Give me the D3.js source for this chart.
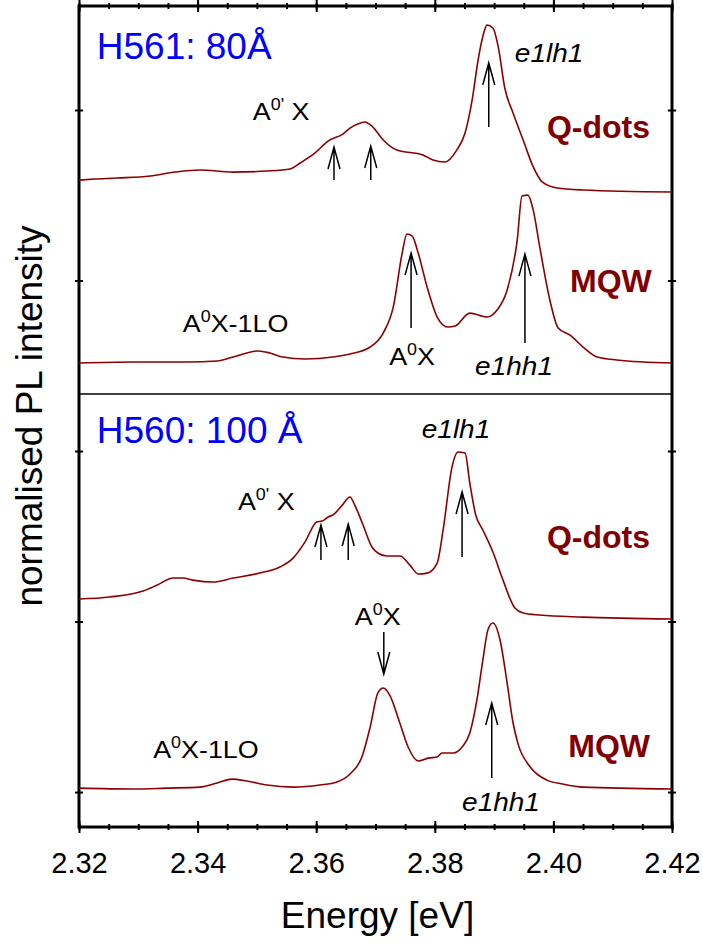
<!DOCTYPE html>
<html>
<head>
<meta charset="utf-8">
<script src="https://cdn.jsdelivr.net/npm/d3@7"></script>
<style>
  body { margin: 0; background: #fff; }
  text { font-family: "Liberation Sans", Arial, sans-serif; }
</style>
</head>
<body>
<script>
// x axis
const energyDomain = [2.32, 2.42];
const xTickLabels = [2.32, 2.34, 2.36, 2.38, 2.40, 2.42];
const yTicks = [0, 1, 2, 3, 4];

// H561 (80 A) quantum dots
const h561QdotsE = [2.3200,2.3227,2.3264,2.3320,2.3362,2.3404,2.3460,2.3517,2.3556,2.3573,2.3598,2.3620,2.3645,2.3657,2.3670,2.3682,2.3694,2.3713,2.3736,2.3780,2.3797,2.3817,2.3837,2.3851,2.3863,2.3873,2.3883,2.3888,2.3898,2.3907,2.3918,2.3932,2.3949,2.3966,2.3981,2.4006,2.4050,2.4200];
const h561QdotsI = [3.589,3.595,3.601,3.613,3.636,3.648,3.636,3.642,3.654,3.689,3.748,3.818,3.859,3.894,3.918,3.930,3.906,3.824,3.765,3.736,3.707,3.695,3.765,3.865,4.059,4.293,4.457,4.499,4.481,4.370,4.129,3.982,3.824,3.666,3.578,3.543,3.531,3.519];

// H561 MQW
const h561MqwE = [2.3200,2.3291,2.3382,2.3433,2.3460,2.3502,2.3522,2.3544,2.3581,2.3628,2.3657,2.3691,2.3713,2.3730,2.3745,2.3753,2.3762,2.3772,2.3787,2.3804,2.3822,2.3834,2.3859,2.3888,2.3905,2.3922,2.3939,2.3947,2.3957,2.3966,2.3977,2.3994,2.4008,2.4028,2.4050,2.4074,2.4107,2.4200];
const h561MqwI = [2.516,2.522,2.522,2.528,2.551,2.587,2.575,2.551,2.540,2.551,2.569,2.610,2.692,2.845,3.161,3.273,3.261,3.161,2.962,2.786,2.727,2.733,2.809,2.786,2.827,2.944,3.238,3.496,3.501,3.413,3.196,2.886,2.721,2.680,2.610,2.551,2.534,2.516];

// H560 (100 A) quantum dots
const h560QdotsE = [2.3200,2.3252,2.3308,2.3332,2.3359,2.3375,2.3392,2.3426,2.3460,2.3505,2.3539,2.3561,2.3581,2.3601,2.3610,2.3620,2.3628,2.3644,2.3657,2.3665,2.3679,2.3694,2.3704,2.3719,2.3741,2.3758,2.3772,2.3787,2.3804,2.3814,2.3829,2.3839,2.3851,2.3859,2.3869,2.3881,2.3898,2.3915,2.3935,2.3949,2.3977,2.4050,2.4200];
const h560QdotsI = [1.132,1.144,1.179,1.214,1.255,1.255,1.243,1.232,1.255,1.285,1.320,1.372,1.466,1.584,1.589,1.613,1.625,1.683,1.730,1.683,1.566,1.437,1.402,1.384,1.384,1.331,1.279,1.284,1.343,1.537,1.906,1.994,1.988,1.812,1.625,1.537,1.408,1.243,1.079,1.050,1.038,1.026,1.015];

// H560 MQW
const h560MqwE = [2.3200,2.3291,2.3348,2.3404,2.3433,2.3458,2.3483,2.3517,2.3561,2.3606,2.3635,2.3657,2.3677,2.3691,2.3704,2.3713,2.3724,2.3741,2.3755,2.3772,2.3789,2.3804,2.3812,2.3831,2.3846,2.3859,2.3871,2.3881,2.3890,2.3898,2.3910,2.3922,2.3932,2.3940,2.3961,2.3989,2.4016,2.4050,2.4200];
const h560MqwI = [0.023,0.018,0.023,0.029,0.053,0.076,0.065,0.041,0.029,0.041,0.059,0.106,0.205,0.381,0.581,0.610,0.569,0.405,0.264,0.182,0.199,0.205,0.229,0.229,0.264,0.346,0.540,0.774,0.956,0.991,0.892,0.639,0.405,0.287,0.147,0.070,0.047,0.029,0.018];

// peak arrows (energy, tail, tip)
const arrowE    = [2.3630, 2.3692, 2.3891, 2.3760, 2.3952, 2.3608, 2.3654, 2.3846, 2.3714, 2.3896];
const arrowFrom = [3.589, 3.589, 3.900, 2.721, 2.633, 1.361, 1.361, 1.378, 0.938, 0.082];
const arrowTo   = [3.783, 3.789, 4.276, 3.161, 3.155, 1.566, 1.572, 1.760, 0.692, 0.522];

// boundary between the two samples
const sampleBoundary = 2.334;

const sampleNames = ["H561: 80Å", "H560: 100 Å"];
const sampleNameE = [2.3230, 2.3230];
const sampleNameI = [4.299, 2.047];

const structNames = ["Q-dots", "MQW", "Q-dots", "MQW"];
const structNameE = [2.3989, 2.4028, 2.3989, 2.4025];
const structNameI = [3.836, 2.933, 1.431, 0.205];

// peak labels: [main, superscript, rest]
const peakLabels = [
  { parts: ["A", "0'", " X"], E: 2.3493, I: 3.941 },
  { parts: ["e1lh1"], E: 2.3935, I: 4.282, italic: true },
  { parts: ["A", "0", "X-1LO"], E: 2.3375, I: 2.698 },
  { parts: ["A", "0", "X"], E: 2.3723, I: 2.504 },
  { parts: ["e1hh1"], E: 2.3868, I: 2.446, italic: true },
  { parts: ["A", "0'", " X"], E: 2.3468, I: 1.654 },
  { parts: ["e1lh1"], E: 2.3778, I: 2.076, italic: true },
  { parts: ["A", "0", "X"], E: 2.3665, I: 0.979 },
  { parts: ["A", "0", "X-1LO"], E: 2.3325, I: 0.199 },
  { parts: ["e1hh1"], E: 2.3846, I: -0.111, italic: true }
];

let W = 703, H = 944;
let LEFT = 79, RIGHT = 672, TOP = 6, BOTTOM = 827;
let CURVE_COLOR = "#8b0000";

let svg = d3.select("body").append("svg").attr("width", W).attr("height", H);

let x = d3.scaleLinear().domain(energyDomain).range([LEFT, RIGHT]);
let y = d3.scaleLinear().domain([-0.205, 4.610]).range([BOTTOM, TOP]);

//minor ticks every 5 meV
let minorTicks = d3.range(0, 21).map(function(i) { return +(2.32 + i * 0.005).toFixed(3); });

function crossTicks(g, a, b, horizontal) {
  g.select(".domain").remove();
  g.selectAll(".tick line")
    .attr(horizontal ? "y1" : "x1", a)
    .attr(horizontal ? "y2" : "x2", b)
    .attr("stroke", "#000")
    .attr("stroke-width", 2);
}

svg.append("g").attr("transform", "translate(0," + BOTTOM + ")")
   .call(d3.axisBottom(x).tickValues(minorTicks).tickSize(0).tickFormat(""))
   .call(function(g) { crossTicks(g, -3, 3, true); });
svg.append("g").attr("transform", "translate(0," + TOP + ")")
   .call(d3.axisTop(x).tickValues(minorTicks).tickSize(0).tickFormat(""))
   .call(function(g) { crossTicks(g, -3, 3, true); });

let bottomAxis = svg.append("g").attr("transform", "translate(0," + BOTTOM + ")")
   .call(d3.axisBottom(x).tickValues(xTickLabels).tickSize(0).tickPadding(25).tickFormat(d3.format(".2f")))
   .call(function(g) { crossTicks(g, -6, 6, true); });
bottomAxis.selectAll("text")
   .attr("font-size", 29)
   .attr("fill", "#000")
   .style("font-family", '"Liberation Sans", Arial, sans-serif');

svg.append("g").attr("transform", "translate(0," + TOP + ")")
   .call(d3.axisTop(x).tickValues(xTickLabels).tickSize(0).tickFormat(""))
   .call(function(g) { crossTicks(g, -6, 6, true); });

svg.append("g").attr("transform", "translate(" + LEFT + ",0)")
   .call(d3.axisLeft(y).tickValues(yTicks).tickSize(0).tickFormat(""))
   .call(function(g) { crossTicks(g, -4, 4, false); });
svg.append("g").attr("transform", "translate(" + RIGHT + ",0)")
   .call(d3.axisRight(y).tickValues(yTicks).tickSize(0).tickFormat(""))
   .call(function(g) { crossTicks(g, -4, 4, false); });

//frame
svg.append("rect")
   .attr("x", LEFT).attr("y", TOP)
   .attr("width", RIGHT - LEFT).attr("height", BOTTOM - TOP)
   .attr("fill", "none").attr("stroke", "#000").attr("stroke-width", 3);

//divider between samples
svg.append("line")
   .attr("x1", x(energyDomain[0])).attr("x2", x(energyDomain[1]))
   .attr("y1", y(sampleBoundary)).attr("y2", y(sampleBoundary))
   .attr("stroke", "#000").attr("stroke-width", 1.5);

//spectra
let spectra = [
  [h561QdotsE, h561QdotsI],
  [h561MqwE, h561MqwI],
  [h560QdotsE, h560QdotsI],
  [h560MqwE, h560MqwI]
];
let line = d3.line()
  .curve(d3.curveMonotoneX)
  .x(function(d) { return x(d[0]); })
  .y(function(d) { return y(d[1]); });

svg.selectAll("path.spectrum")
   .data(spectra.map(function(s) { return d3.zip(s[0], s[1]); }))
   .enter()
   .append("path")
   .attr("class", "spectrum")
   .attr("d", line)
   .attr("fill", "none")
   .attr("stroke", CURVE_COLOR)
   .attr("stroke-width", 1.6)
   .attr("stroke-linejoin", "round");

//arrows
svg.selectAll("path.arrow")
   .data(d3.range(arrowE.length))
   .enter()
   .append("path")
   .attr("class", "arrow")
   .attr("d", function(i) {
     let ax = x(arrowE[i]), y0 = y(arrowFrom[i]), y1 = y(arrowTo[i]);
     let dir = y1 < y0 ? 1 : -1;
     return "M" + ax + "," + y0 + "L" + ax + "," + y1 +
            "M" + (ax - 6) + "," + (y1 + dir * 22) + "L" + ax + "," + y1 + "L" + (ax + 6) + "," + (y1 + dir * 22);
   })
   .attr("fill", "none")
   .attr("stroke", "#000")
   .attr("stroke-width", 1.5);

//sample names
svg.selectAll("text.sample")
   .data(d3.range(sampleNames.length))
   .enter()
   .append("text")
   .attr("class", "sample")
   .attr("x", function(i) { return x(sampleNameE[i]); })
   .attr("y", function(i) { return y(sampleNameI[i]); })
   .attr("font-size", 37)
   .attr("fill", "#0000ff")
   .text(function(i) { return sampleNames[i]; });

//structure names
svg.selectAll("text.struct")
   .data(d3.range(structNames.length))
   .enter()
   .append("text")
   .attr("class", "struct")
   .attr("x", function(i) { return x(structNameE[i]); })
   .attr("y", function(i) { return y(structNameI[i]); })
   .attr("font-size", 32)
   .attr("font-weight", "bold")
   .attr("fill", "#800000")
   .text(function(i) { return structNames[i]; });

//peak labels (slightly stretched like the original)
let peaks = svg.selectAll("text.peak")
   .data(peakLabels)
   .enter()
   .append("text")
   .attr("class", "peak")
   .attr("transform", function(d) { return "translate(" + x(d.E) + "," + y(d.I) + ") scale(1.12,1)"; })
   .attr("font-size", function(d) { return d.italic ? 25 : 24; })
   .attr("font-style", function(d) { return d.italic ? "italic" : "normal"; })
   .attr("fill", "#000");

peaks.each(function(d) {
  let t = d3.select(this);
  t.append("tspan").text(d.parts[0]);
  if (d.parts.length > 1) {
    t.append("tspan").attr("font-size", 16).attr("dy", -10).text(d.parts[1]);
    t.append("tspan").attr("dy", 10).text(d.parts[2]);
  }
});

//axis titles
svg.append("text")
   .attr("x", (LEFT + RIGHT) / 2 + 2)
   .attr("y", 928)
   .attr("text-anchor", "middle")
   .attr("font-size", 37)
   .text("Energy [eV]");

svg.append("text")
   .attr("transform", "translate(42,416) rotate(-90)")
   .attr("text-anchor", "middle")
   .attr("font-size", 37)
   .text("normalised PL intensity");
</script>
</body>
</html>
